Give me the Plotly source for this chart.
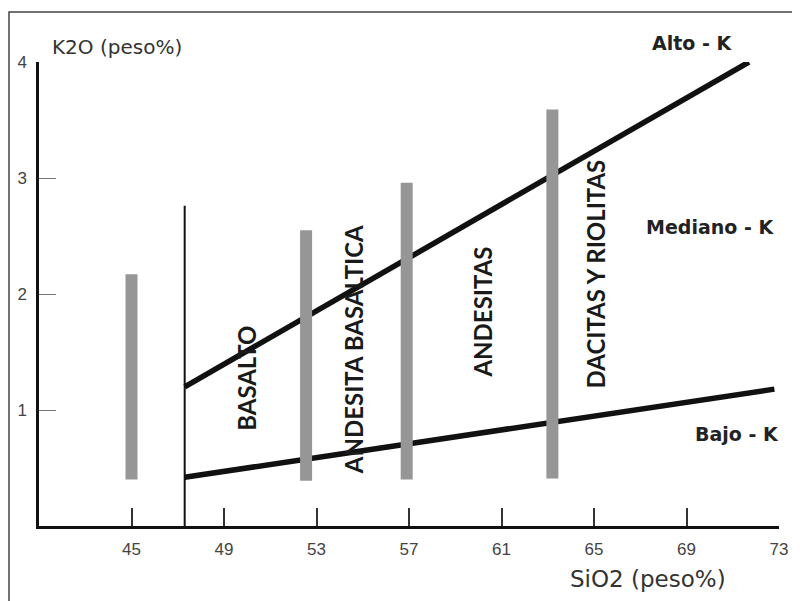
import plotly.graph_objects as go

# ---- data ----
x_ticks = [45, 49, 53, 57, 61, 65, 69, 73]
y_ticks = [1, 2, 3, 4]

divider_x = [47.3, 47.3]
divider_y = [0.0, 2.76]

alto_x = [47.3, 71.7]
alto_y = [1.20, 4.00]

bajo_x = [47.3, 72.8]
bajo_y = [0.42, 1.18]

bar_x = [45.0, 52.55, 56.9, 63.2]
bar_lo = [0.40, 0.39, 0.40, 0.41]
bar_hi = [2.17, 2.55, 2.96, 3.59]

rock_names = ["BASALTO", "ANDESITA BASALTICA", "ANDESITAS", "DACITAS Y RIOLITAS"]
rock_x = [50.0, 54.6, 60.2, 65.05]
rock_y = [1.27, 1.52, 1.84, 2.17]

series_names = ["Alto - K", "Mediano - K", "Bajo - K"]
series_x = [69.25, 70.0, 71.2]
series_y = [4.16, 2.58, 0.79]

# page offset (browser body margin) compensation
OFF = 8
L, T = 39 - OFF, 62 - OFF
W, H = 800 - OFF, 601 - OFF
PW, PH = 740, 464

X0, X1 = 41, 73
Y0, Y1 = 0, 4


def px(xv):
    return (xv - X0) / (X1 - X0)


def py(yv):
    return (yv - Y0) / (Y1 - Y0)


fig = go.Figure()

fig.add_trace(go.Scatter(x=divider_x, y=divider_y, mode="lines",
                         line=dict(color="#111111", width=2), hoverinfo="skip"))
fig.add_trace(go.Scatter(x=alto_x, y=alto_y, mode="lines",
                         line=dict(color="#111111", width=5.5), hoverinfo="skip"))
fig.add_trace(go.Scatter(x=bajo_x, y=bajo_y, mode="lines",
                         line=dict(color="#111111", width=5.5), hoverinfo="skip"))

for bx, lo, hi in zip(bar_x, bar_lo, bar_hi):
    fig.add_trace(go.Scatter(x=[bx, bx], y=[lo, hi], mode="lines",
                             line=dict(color="#969696", width=12), hoverinfo="skip"))

annotations = []
for name, x, y in zip(rock_names, rock_x, rock_y):
    annotations.append(dict(x=x, y=y, xref="x", yref="y", text=name, showarrow=False,
                            textangle=-90,
                            font=dict(family="Lato", size=24, color="#1a1a1a", weight="bold")))
for name, x, y in zip(series_names, series_x, series_y):
    annotations.append(dict(x=px(x), y=py(y), xref="paper", yref="paper", text=name,
                            showarrow=False, xanchor="center", yanchor="middle",
                            font=dict(family="DejaVu Sans", size=19, color="#222222", weight="bold")))

annotations.append(dict(x=(50 - 39) / PW, y=(526 - 47) / PH, xref="paper", yref="paper",
                        text="K2O (peso%)", showarrow=False, xanchor="left", yanchor="middle",
                        font=dict(family="DejaVu Sans", size=20, color="#333333")))
annotations.append(dict(x=(648 - 39) / PW, y=(526 - 579) / PH, xref="paper", yref="paper",
                        text="SiO2 (peso%)", showarrow=False, xanchor="center", yanchor="middle",
                        font=dict(family="DejaVu Sans", size=23, color="#333333")))

fig.update_layout(
    width=W, height=H,
    margin=dict(l=L, r=W - L - PW, t=T, b=H - T - PH, autoexpand=False),
    paper_bgcolor="white", plot_bgcolor="white",
    showlegend=False,
    annotations=annotations,
    shapes=[dict(type="rect", xref="paper", yref="paper",
                 x0=(9 - 39) / PW, x1=(806 - 39) / PW,
                 y0=(526 - 606) / PH, y1=(526 - 12) / PH,
                 line=dict(color="#444444", width=1.5), layer="below")],
    xaxis=dict(range=[X0, X1], tickvals=x_ticks, ticktext=[str(v) for v in x_ticks],
               ticks="inside", ticklen=18, tickwidth=1.5, tickcolor="#333333",
               showline=True, linecolor="#111111", linewidth=2.5,
               showgrid=False, zeroline=False, ticklabelstandoff=6,
               tickfont=dict(family="Liberation Sans", size=17, color="#444444")),
    yaxis=dict(range=[Y0, Y1], tickvals=y_ticks, ticktext=[str(v) for v in y_ticks],
               ticks="inside", ticklen=17, tickwidth=1.2, tickcolor="#777777",
               showline=True, linecolor="#111111", linewidth=2.5,
               showgrid=False, zeroline=False, ticklabelstandoff=6,
               tickfont=dict(family="Liberation Sans", size=17, color="#444444")),
)

fig.write_html("out.html")
